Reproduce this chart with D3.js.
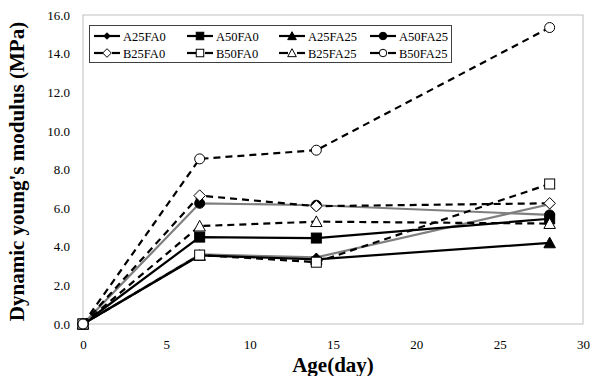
<!DOCTYPE html>
<html>
<head>
<meta charset="utf-8">
<script src="https://cdn.jsdelivr.net/npm/d3@7"></script>
<style>
  html, body { margin: 0; padding: 0; background: #fff; }
  svg { display: block; }
  svg text { font-family: "Liberation Serif", "Times New Roman", serif; }
</style>
</head>
<body>
<svg id="chart" width="593" height="376"></svg>
<script>
// Curing age (days)
const ages = [0, 7, 14, 28];

// Dynamic Young's modulus (MPa) per mix
const A25FA0  = [0, 3.60, 3.45, 6.20];
const A50FA0  = [0, 4.50, 4.45, 5.45];
const A25FA25 = [0, 3.55, 3.35, 4.20];
const A50FA25 = [0, 6.25, 6.15, 5.65];
const B25FA0  = [0, 6.65, 6.10, 6.25];
const B50FA0  = [0, 3.57, 3.20, 7.25];
const B25FA25 = [0, 5.07, 5.30, 5.20];
const B50FA25 = [0, 8.55, 9.00, 15.35];

const seriesNames = ["A25FA0", "A50FA0", "A25FA25", "A50FA25", "B25FA0", "B50FA0", "B25FA25", "B50FA25"];
const seriesValues = [A25FA0, A50FA0, A25FA25, A50FA25, B25FA0, B50FA0, B25FA25, B50FA25];

const xTicks = [0, 5, 10, 15, 20, 25, 30];
const yTicks = [0, 2, 4, 6, 8, 10, 12, 14, 16];

const FONT = "'Liberation Serif', 'Times New Roman', serif";

// Visual style of each series: marker shape, fill, line colour and dash
const styles = {
  A25FA0:  { shape: "diamond",  fill: "#000", stroke: "#7f7f7f", dash: null, size: 0.75 },
  A50FA0:  { shape: "square",   fill: "#000", stroke: "#000",    dash: null, size: 1 },
  A25FA25: { shape: "triangle", fill: "#000", stroke: "#000",    dash: null, size: 1 },
  A50FA25: { shape: "circle",   fill: "#000", stroke: "#7f7f7f", dash: null, size: 1 },
  B25FA0:  { shape: "diamond",  fill: "#fff", stroke: "#000",    dash: "7,5", size: 1 },
  B50FA0:  { shape: "square",   fill: "#fff", stroke: "#000",    dash: "7,5", size: 1 },
  B25FA25: { shape: "triangle", fill: "#fff", stroke: "#000",    dash: "7,5", size: 1 },
  B50FA25: { shape: "circle",   fill: "#fff", stroke: "#000",    dash: "7,5", size: 1 }
};

const svg = d3.select("#chart");
const plot = { left: 83, right: 583, top: 15, bottom: 324 };

const x = d3.scaleLinear().domain([0, 30]).range([plot.left, plot.right]);
const y = d3.scaleLinear().domain([0, 16]).range([plot.bottom, plot.top]);

// Plot frame
svg.append("rect")
  .attr("x", plot.left).attr("y", plot.top)
  .attr("width", plot.right - plot.left).attr("height", plot.bottom - plot.top)
  .attr("fill", "none").attr("stroke", "#bfbfbf").attr("stroke-width", 1);

// Axes (labels only, no tick marks)
const xAxis = svg.append("g")
  .attr("transform", `translate(0,${plot.bottom})`)
  .call(d3.axisBottom(x).tickValues(xTicks).tickSize(0).tickPadding(16));
xAxis.attr("font-family", FONT);
xAxis.select(".domain").remove();
xAxis.selectAll("text").attr("font-size", 13).attr("fill", "#000");

const yAxis = svg.append("g")
  .attr("transform", `translate(${plot.left},0)`)
  .call(d3.axisLeft(y).tickValues(yTicks).tickFormat(d3.format(".1f")).tickSize(0).tickPadding(13));
yAxis.attr("font-family", FONT);
yAxis.select(".domain").remove();
yAxis.selectAll("text").attr("font-size", 13).attr("fill", "#000");

// Axis titles
svg.append("text")
  .attr("x", (plot.left + plot.right) / 2).attr("y", 372)
  .attr("text-anchor", "middle")
  .attr("font-size", 21).attr("font-weight", "bold")
  .text("Age(day)");

svg.append("text")
  .attr("transform", `translate(24,${(plot.top + plot.bottom) / 2 + 2}) rotate(-90)`)
  .attr("text-anchor", "middle")
  .attr("font-size", 21).attr("font-weight", "bold")
  .text("Dynamic young's modulus (MPa)");

// Marker drawing helper
function drawMarker(g, st, cx, cy, scale) {
  const s = 5 * st.size * scale;
  let m;
  if (st.shape === "circle") {
    m = g.append("circle").attr("cx", cx).attr("cy", cy).attr("r", s);
  } else if (st.shape === "square") {
    m = g.append("rect").attr("x", cx - s).attr("y", cy - s).attr("width", 2 * s).attr("height", 2 * s);
  } else if (st.shape === "diamond") {
    const d = s * 1.15;
    m = g.append("path").attr("d", `M${cx},${cy - d}L${cx + d},${cy}L${cx},${cy + d}L${cx - d},${cy}Z`);
  } else {
    const h = s * 1.15;
    m = g.append("path").attr("d", `M${cx},${cy - h}L${cx + h},${cy + h * 0.85}L${cx - h},${cy + h * 0.85}Z`);
  }
  m.attr("fill", st.fill).attr("stroke", "#000").attr("stroke-width", 1);
}

const line = d3.line().x((d, i) => x(ages[i])).y(d => y(d));

// Series in drawing order
seriesNames.forEach((name, k) => {
  const st = styles[name];
  const vals = seriesValues[k];
  const g = svg.append("g");
  g.append("path")
    .attr("d", line(vals))
    .attr("fill", "none")
    .attr("stroke", st.stroke)
    .attr("stroke-width", 2.2)
    .attr("stroke-dasharray", st.dash);
  vals.forEach((v, i) => drawMarker(g, st, x(ages[i]), y(v), 1));
});

// Legend
const legend = svg.append("g");
legend.append("rect")
  .attr("x", 89.5).attr("y", 25.5).attr("width", 362).attr("height", 37)
  .attr("fill", "#fff").attr("stroke", "#404040").attr("stroke-width", 1);

const colX = [94, 187, 279, 370];
const rowY = [36, 53];
seriesNames.forEach((name, k) => {
  const st = styles[name];
  const cx = colX[k % 4];
  const cy = rowY[Math.floor(k / 4)];
  const g = legend.append("g");
  if (st.dash) {
    g.append("line").attr("x1", cx).attr("x2", cx + 9).attr("y1", cy).attr("y2", cy)
      .attr("stroke", "#000").attr("stroke-width", 2.2);
    g.append("line").attr("x1", cx + 18).attr("x2", cx + 26).attr("y1", cy).attr("y2", cy)
      .attr("stroke", "#000").attr("stroke-width", 2.2);
  } else {
    g.append("line").attr("x1", cx).attr("x2", cx + 26).attr("y1", cy).attr("y2", cy)
      .attr("stroke", "#000").attr("stroke-width", 2.2);
  }
  drawMarker(g, st, cx + 13, cy, 0.75);
  g.append("text").attr("x", cx + 29).attr("y", cy + 4.5)
    .attr("font-size", 12.5).text(name);
});
</script>
</body>
</html>
